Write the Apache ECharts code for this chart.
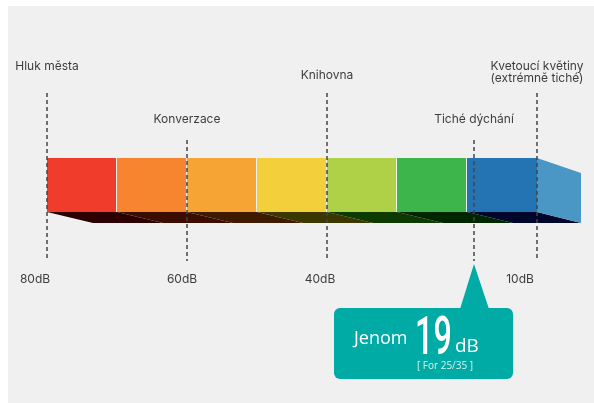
<!DOCTYPE html>
<html><head><meta charset="utf-8">
<script src="https://cdn.jsdelivr.net/npm/echarts@6/dist/echarts.min.js"></script>
<style>html,body{margin:0;padding:0;background:#fff}#c{width:594px;height:403px}</style>
</head><body><div id="c"></div>
<script>
// ---- data ----
const segmentStartDb = [80, 70, 60, 50, 40, 30, 20];
const segmentWidthDb = 10;
const segmentColors = ['#f03c2a', '#f7842f', '#f6a535', '#f3cf3b', '#aed147', '#3db54a', '#2474b3'];
const segmentShadeColors = ['#2c0000', '#3a0d00', '#3d1a00', '#3b3700', '#0d3a00', '#002600', '#00072a'];
const markerNames = ['Hluk města', 'Konverzace', 'Knihovna', 'Tiché dýchání', 'Kvetoucí květiny\n(extrémně tiché)'];
const markerDb = [80, 60, 40, 19, 10];
const tickLabels = ['80dB', '60dB', '40dB', '10dB'];
const tickDb = [80, 60, 40, 10];
const calloutDb = 19;
const calloutValue = '19';
const calloutPrefix = 'Jenom';
const calloutUnit = 'dB';
const calloutNote = '[ For 25/35 ]';

// ---- styles / layout (pixels) ----
const markerLineTop = [93, 140, 93, 140, 93];
const markerLabelY = [66, 119, 75, 119, 72];
const tickLabelDx = [-12, -5, -7, -17];
const tickLabelY = 279;
const lineBottom = 261;
const depth = {dx: 46, dyTop: 15, dyBottom: 11, endDx: 44};
const labelFont = '12px Inter, "Noto Sans", sans-serif';
const teal = '#00aaa5';

const chart = echarts.init(document.getElementById('c'), null, {renderer: 'canvas'});

function barItem(params, api) {
  const s = api.value(0), e = api.value(1), i = api.value(2);
  const pTop = api.coord([s, 1]);
  const pBot = api.coord([e, 0]);
  const x0 = pTop[0], x1 = pBot[0], yT = pTop[1], yB = pBot[1];
  const last = i === segmentStartDb.length - 1;
  const children = [];
  const rdx = last ? depth.endDx : depth.dx;
  children.push({type: 'polygon', shape: {points: [[x0, yB], [x1, yB], [x1 + rdx, yB + depth.dyBottom], [x0 + depth.dx, yB + depth.dyBottom]]},
    style: {fill: segmentShadeColors[i]}});
  children.push({type: 'rect', shape: {x: x0, y: yT, width: x1 - x0 - (last ? 0 : 1), height: yB - yT},
    style: {fill: segmentColors[i]}});
  if (last) {
    children.push({type: 'polygon', shape: {points: [[x1, yT], [x1 + depth.endDx, yT + depth.dyTop], [x1 + depth.endDx, yB + depth.dyBottom], [x1, yB]]},
      style: {fill: '#4a96c4'}});
  }
  return {type: 'group', children};
}

function markerItem(params, api) {
  const i = params.dataIndex;
  const x = api.coord([api.value(0), 0])[0];
  return {type: 'group', children: [
    {type: 'line', shape: {x1: x, y1: markerLineTop[i], x2: x, y2: lineBottom},
      style: {stroke: '#444', lineWidth: 1.5, lineDash: [4, 3]}},
    {type: 'text', x: x, y: markerLabelY[i], style: {text: markerNames[i], font: labelFont, fill: '#3d3d3d',
      align: 'center', verticalAlign: 'middle', lineHeight: 12}}
  ]};
}

function tickItem(params, api) {
  const i = params.dataIndex;
  const x = api.coord([api.value(0), 0])[0];
  return {type: 'text', x: x + tickLabelDx[i], y: tickLabelY, style: {text: tickLabels[i], font: labelFont, fill: '#3d3d3d',
    align: 'center', verticalAlign: 'middle'}};
}

function calloutItem(params, api) {
  const x = api.coord([api.value(0), 0])[0];
  const boxX = x - 140, boxY = 308, boxW = 179, boxH = 71;
  return {type: 'group', children: [
    {type: 'polygon', shape: {points: [[x, 264], [x - 14, boxY + 1], [x + 15, boxY + 1]]}, style: {fill: teal}},
    {type: 'rect', shape: {x: boxX, y: boxY, width: boxW, height: boxH, r: 6}, style: {fill: teal}},
    {type: 'text', x: boxX + 20, y: 339, style: {text: calloutPrefix, font: '18px "Open Sans", sans-serif', fill: '#fff', verticalAlign: 'middle'}},
    {type: 'text', x: boxX + 81, y: 340, scaleX: 0.6, style: {text: calloutValue, font: '500 54px Roboto, sans-serif', fill: '#fff', verticalAlign: 'middle'}},
    {type: 'text', x: boxX + 121, y: 347, style: {text: calloutUnit, font: '19px "Open Sans", sans-serif', fill: '#fff', verticalAlign: 'middle'}},
    {type: 'text', x: boxX + 111, y: 366, style: {text: calloutNote, font: '10px "Open Sans", sans-serif', fill: '#d8f4f3', align: 'center', verticalAlign: 'middle'}}
  ]};
}

chart.setOption({
  backgroundColor: '#ffffff',
  animation: false,
  graphic: [{type: 'rect', shape: {x: 8, y: 6, width: 586, height: 397}, style: {fill: '#f0f0f0'}, z: -10}],
  grid: {left: 47, right: 57, top: 158, bottom: 191},
  xAxis: {type: 'value', min: 10, max: 80, inverse: true, show: false},
  yAxis: {type: 'value', min: 0, max: 1, show: false},
  series: [
    {type: 'custom', clip: false, renderItem: barItem, z: 2,
      data: segmentStartDb.map((s, i) => [s, s - segmentWidthDb, i])},
    {type: 'custom', clip: false, renderItem: markerItem, z: 3, data: markerDb.map(d => [d])},
    {type: 'custom', clip: false, renderItem: tickItem, z: 3, data: tickDb.map(d => [d])},
    {type: 'custom', clip: false, renderItem: calloutItem, z: 4, data: [[calloutDb]]}
  ]
});
</script></body></html>
